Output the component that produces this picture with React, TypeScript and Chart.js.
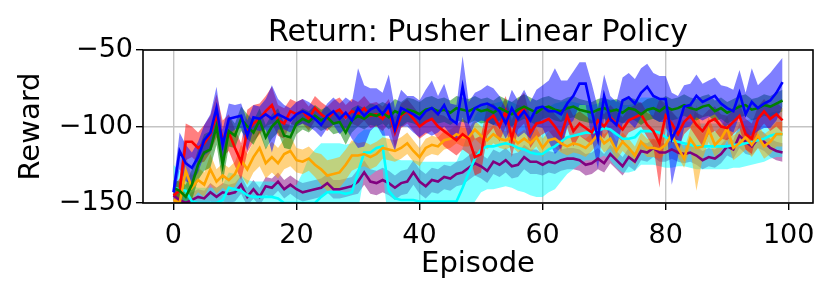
import { useEffect, useRef } from 'react';
import { Chart, registerables } from 'chart.js';

Chart.register(...registerables);

const episodes = Array.from({ length: 100 }, (_, i) => i);
const xTicks = [0, 20, 40, 60, 80, 100];
const yTicks = [-150, -100, -50];
const titleText = 'Return: Pusher Linear Policy';
const xTitle = 'Episode';
const yTitle = 'Reward';

const purpleMean = [
  -145, -148, -150, -148, -146, -147, -143, -146, -143, -144,
  -143, -138, -146, -141, -146, -139, -140, -136, -141, -138,
  -141, -143, -142, -141, -140, -137, -141, -141, -140, -139,
  -136, -130, -136, -137, -135, -137, -140, -137, -136, -130,
  -136, -139, -135, -136, -133, -134, -131, -130, -127, -124,
  -126, -129, -123, -125, -122, -126, -125, -120, -123, -123,
  -125, -123, -124, -122, -121, -121, -122, -125, -124, -121,
  -124, -118, -122, -126, -120, -123, -116, -117, -114, -117,
  -117, -115, -117, -118, -117, -119, -122, -120, -121, -118,
  -113, -115, -106, -110, -113, -108, -110, -114, -116, -117,
];
const purpleStd = [
  5, 4, 4, 5, 5, 5, 6, 6, 6, 6,
  6, 6, 6, 6, 6, 6, 6, 6, 6, 6,
  6, 6, 6, 6, 6, 6, 6, 6, 6, 6,
  8, 8, 8, 8, 8, 8, 8, 8, 8, 8,
  8, 8, 8, 8, 8, 8, 8, 8, 8, 8,
  8, 8, 8, 8, 8, 8, 8, 8, 8, 8,
  7, 7, 7, 7, 7, 7, 7, 7, 7, 7,
  6, 6, 6, 6, 6, 6, 6, 6, 6, 6,
  6, 6, 6, 6, 6, 6, 6, 6, 6, 6,
  6, 6, 8, 8, 6, 6, 6, 6, 6, 6,
];

const cyanMean = [
  -140, -141, -142, -149, -150, -150, -150, -150, -148, -140,
  -141, -142, -145, -146, -146, -146, -146, -147, -150, -150,
  -150, -150, -150, -150, -146, -143, -143, -143, -144, -143,
  -130, -117, -117, -114, -113, -142, -147, -148, -148, -148,
  -149, -149, -149, -149, -149, -149, -149, -140, -130, -121,
  -115, -113, -113, -112, -111, -112, -114, -115, -117, -118,
  -118, -115, -113, -110, -107, -106, -105, -104, -104, -103,
  -101, -102, -105, -108, -108, -107, -103, -103, -103, -104,
  -107, -109, -110, -111, -112, -113, -113, -113, -113, -113,
  -113, -112, -112, -111, -110, -109, -108, -106, -105, -105,
];
const cyanStd = [
  15, 12, 10, 10, 10, 10, 10, 10, 10, 10,
  10, 10, 10, 10, 10, 10, 10, 10, 10, 10,
  12, 20, 30, 35, 35, 32, 32, 32, 32, 32,
  25, 15, 15, 15, 15, 25, 26, 26, 26, 26,
  26, 26, 26, 26, 26, 26, 26, 26, 27, 28,
  28, 28, 28, 28, 28, 28, 28, 28, 28, 28,
  28, 28, 28, 26, 24, 22, 20, 18, 18, 18,
  18, 20, 22, 22, 22, 22, 22, 22, 22, 22,
  20, 18, 16, 15, 15, 15, 15, 15, 15, 15,
  15, 15, 15, 15, 15, 15, 15, 15, 15, 15,
];

const orangeMean = [
  -148, -150, -129, -140, -135, -138, -128, -136, -132, -135,
  -131, -122, -128, -120, -114, -124, -120, -124, -118, -116,
  -122, -123, -121, -125, -128, -132, -131, -130, -125, -119,
  -119, -118, -120, -118, -114, -115, -116, -114, -111, -116,
  -120, -114, -112, -113, -109, -108, -105, -107, -107, -102,
  -106, -109, -105, -108, -109, -107, -111, -108, -111, -107,
  -114, -109, -108, -111, -113, -111, -112, -114, -110, -105,
  -111, -108, -116, -110, -114, -119, -110, -114, -114, -115,
  -112, -105, -114, -121, -108, -114, -113, -102, -112, -108,
  -101, -114, -111, -107, -112, -106, -113, -110, -105, -105,
];
const orangeStd = [
  4, 6, 10, 8, 8, 8, 10, 8, 8, 8,
  8, 10, 10, 10, 12, 10, 10, 10, 10, 10,
  8, 8, 8, 8, 10, 10, 10, 10, 10, 10,
  8, 8, 8, 8, 7, 7, 7, 7, 7, 7,
  6, 6, 6, 6, 6, 6, 6, 6, 6, 6,
  6, 6, 6, 6, 6, 6, 6, 6, 6, 6,
  6, 6, 6, 6, 6, 6, 6, 6, 6, 6,
  6, 6, 6, 6, 6, 6, 6, 6, 6, 6,
  6, 6, 6, 6, 6, 28, 8, 8, 8, 8,
  8, 8, 8, 8, 8, 8, 8, 8, 8, 8,
];

const redMean = [
  -145, -142, -110, -110, -114, -111, -105, -93, -108, -104,
  -114, -123, -103, -98, -95, -90, -86, -96, -98, -90,
  -92, -90, -95, -88, -92, -95, -91, -89, -94, -90,
  -92, -88, -93, -92, -95, -90, -104, -93, -90, -95,
  -100, -97, -95, -100, -103, -106, -109, -105, -108, -120,
  -118, -96, -93, -100, -90, -108, -92, -88, -104, -98,
  -97, -95, -100, -106, -93, -103, -98, -101, -104, -96,
  -100, -94, -98, -102, -96, -94, -92, -99, -103, -111,
  -93, -98, -105, -97, -93, -99, -103, -97, -95, -100,
  -101, -97, -93, -105, -108, -95, -90, -95, -92, -96,
];
const redStd = [
  6, 8, 12, 10, 10, 12, 12, 14, 12, 12,
  12, 12, 14, 12, 10, 10, 12, 10, 10, 8,
  8, 8, 8, 8, 8, 8, 8, 8, 8, 8,
  8, 8, 8, 8, 8, 8, 10, 8, 8, 8,
  8, 8, 8, 8, 10, 10, 10, 10, 10, 12,
  12, 10, 8, 10, 10, 12, 10, 10, 10, 10,
  8, 8, 8, 10, 8, 10, 8, 8, 8, 8,
  8, 8, 8, 8, 8, 8, 8, 8, 10, 29,
  8, 8, 10, 8, 8, 8, 10, 8, 8, 8,
  8, 8, 8, 10, 10, 8, 8, 8, 8, 8,
];

const greenMean = [
  -140, -142, -146, -138, -125, -117, -115, -100, -125, -103,
  -106, -95, -100, -104, -96, -107, -100, -96, -106, -107,
  -98, -95, -97, -93, -96, -94, -98, -97, -104, -96,
  -93, -95, -92, -93, -91, -94, -90, -92, -89, -90,
  -92, -89, -88, -90, -89, -91, -88, -89, -90, -88,
  -90, -89, -91, -88, -90, -92, -89, -87, -89, -91,
  -88, -87, -89, -90, -88, -87, -89, -90, -91, -89,
  -88, -90, -89, -91, -88, -89, -92, -89, -88, -90,
  -87, -89, -88, -86, -88, -89, -87, -86, -90, -88,
  -91, -89, -87, -86, -89, -88, -86, -87, -85, -83,
];
const greenStd = [
  5, 6, 8, 10, 10, 12, 12, 12, 12, 10,
  8, 8, 8, 8, 8, 8, 8, 8, 8, 8,
  7, 7, 7, 7, 7, 7, 7, 7, 8, 8,
  7, 7, 7, 7, 7, 8, 8, 8, 8, 8,
  8, 8, 8, 8, 8, 8, 8, 8, 8, 8,
  8, 8, 8, 8, 8, 8, 8, 8, 8, 8,
  7, 7, 7, 7, 7, 7, 7, 7, 7, 7,
  7, 7, 7, 7, 7, 7, 7, 7, 7, 7,
  7, 7, 7, 7, 7, 7, 7, 7, 7, 7,
  7, 7, 7, 7, 7, 7, 7, 7, 7, 7,
];

const blueMean = [
  -143, -116, -124, -127, -120, -109, -104, -88, -112, -95,
  -94, -93, -106, -94, -95, -92, -95, -92, -94, -96,
  -92, -90, -92, -95, -99, -93, -90, -95, -91, -96,
  -88, -93, -89, -87, -92, -86, -102, -88, -90, -92,
  -95, -90, -88, -92, -86, -95, -98, -74, -96, -88,
  -86, -85, -87, -90, -98, -88, -95, -90, -96, -88,
  -87, -90, -90, -92, -85, -80, -72, -72, -90, -108,
  -80, -95, -99, -83, -81, -85, -78, -74, -80, -82,
  -82, -108, -100, -87, -86, -80, -84, -82, -80, -85,
  -88, -90, -78, -92, -84, -88, -85, -83, -78, -71,
];
const blueStd = [
  6, 12, 12, 10, 10, 10, 12, 14, 10, 10,
  8, 8, 10, 8, 8, 10, 22, 10, 8, 8,
  8, 8, 8, 8, 8, 8, 9, 10, 10, 12,
  26, 20, 14, 12, 14, 20, 14, 12, 10, 12,
  12, 14, 18, 12, 14, 10, 12, 20, 12, 10,
  10, 12, 12, 10, 10, 12, 12, 14, 12, 12,
  14, 20, 28, 22, 15, 16, 14, 14, 18, 20,
  14, 15, 15, 15, 16, 16, 16, 15, 15, 15,
  15, 30, 20, 14, 14, 14, 12, 12, 12, 12,
  14, 14, 15, 14, 22, 15, 16, 18, 18, 16,
];

// drawing order: first drawn at the bottom
const seriesList = [
  { name: 'purple', color: 'rgb(128,0,128)', band: 'rgba(128,0,128,0.5)', mean: purpleMean, std: purpleStd },
  { name: 'cyan', color: 'rgb(0,255,255)', band: 'rgba(0,255,255,0.5)', mean: cyanMean, std: cyanStd },
  { name: 'orange', color: 'rgb(255,165,0)', band: 'rgba(255,165,0,0.5)', mean: orangeMean, std: orangeStd },
  { name: 'red', color: 'rgb(255,0,0)', band: 'rgba(255,0,0,0.5)', mean: redMean, std: redStd },
  { name: 'green', color: 'rgb(0,128,0)', band: 'rgba(0,128,0,0.5)', mean: greenMean, std: greenStd },
  { name: 'blue', color: 'rgb(0,0,255)', band: 'rgba(0,0,255,0.5)', mean: blueMean, std: blueStd },
];

const FONT = 'DejaVu Sans';
const fmt = (v: number) => (v < 0 ? '\u2212' + Math.abs(v) : String(v));

const framePlugin = {
  id: 'frame',
  afterDatasetsDraw(chart: any) {
    const { ctx, chartArea } = chart;
    ctx.save();
    ctx.strokeStyle = '#000';
    ctx.lineWidth = 1.6;
    ctx.strokeRect(chartArea.left, chartArea.top, chartArea.right - chartArea.left, chartArea.bottom - chartArea.top);
    ctx.restore();
  },
};

export default function App() {
  const ref = useRef<HTMLCanvasElement>(null);
  useEffect(() => {
    if (!ref.current) return;
    const datasets: any[] = [];
    const total = seriesList.length * 3;
    let drawIdx = 0;
    seriesList.forEach((s) => {
      const lo = episodes.map((e, i) => ({ x: e, y: s.mean[i] - s.std[i] }));
      const hi = episodes.map((e, i) => ({ x: e, y: s.mean[i] + s.std[i] }));
      datasets.push({
        label: s.name + ' low', data: lo, borderWidth: 0, pointRadius: 0, fill: false,
        borderColor: 'rgba(0,0,0,0)', order: total - drawIdx++,
      });
      datasets.push({
        label: s.name + ' high', data: hi, borderWidth: 0, pointRadius: 0, fill: '-1',
        backgroundColor: s.band, borderColor: 'rgba(0,0,0,0)', order: total - drawIdx++,
      });
    });
    seriesList.forEach((s) => {
      datasets.push({
        label: s.name, data: episodes.map((e, i) => ({ x: e, y: s.mean[i] })),
        borderColor: s.color, borderWidth: 2.6, pointRadius: 0, fill: false, tension: 0,
        order: total - drawIdx++,
      });
    });

    const chart = new Chart(ref.current, {
      type: 'line',
      data: { datasets },
      plugins: [framePlugin],
      options: {
        animation: false,
        responsive: false,
        devicePixelRatio: 1,
        layout: { padding: { left: 0, right: 17, top: 0, bottom: 0 } },
        plugins: {
          legend: { display: false },
          tooltip: { enabled: false },
          filler: { drawTime: 'beforeDatasetsDraw' },
          title: {
            display: true, text: titleText, color: '#000', fullSize: false,
            font: { family: FONT, size: 30, weight: 'normal', lineHeight: 1.1 },
            padding: { top: 17, bottom: 0 },
          },
        },
        scales: {
          x: {
            type: 'linear', min: -4.95, max: 103.95,
            afterBuildTicks: (scale: any) => { scale.ticks = xTicks.map((v) => ({ value: v })); },
            afterFit: (scale: any) => { scale.height = 94; scale.paddingLeft = 0; scale.paddingRight = 0; },
            ticks: {
              autoSkip: false, maxRotation: 0, minRotation: 0, color: '#000', padding: 10,
              font: { family: FONT, size: 27 }, callback: (v: any) => fmt(Number(v)),
            },
            grid: { color: '#c4c4c4', lineWidth: 1.4, tickColor: '#000', tickLength: 7, tickWidth: 1.4 },
            border: { display: false },
            title: {
              display: true, text: xTitle, color: '#000',
              font: { family: FONT, size: 29 }, padding: { top: 0, bottom: 15 },
            },
          },
          y: {
            type: 'linear', min: -150, max: -50,
            afterBuildTicks: (scale: any) => { scale.ticks = yTicks.map((v) => ({ value: v })); },
            afterFit: (scale: any) => { scale.width = 143; scale.paddingTop = 0; scale.paddingBottom = 0; },
            ticks: {
              color: '#000', padding: 3,
              font: { family: FONT, size: 27 }, callback: (v: any) => fmt(Number(v)),
            },
            grid: { color: '#c4c4c4', lineWidth: 1.4, tickColor: '#000', tickLength: 7, tickWidth: 1.4 },
            border: { display: false },
            title: {
              display: true, text: yTitle, color: '#000',
              font: { family: FONT, size: 29 }, padding: { top: 14, bottom: 0 },
            },
          },
        },
      } as any,
    });
    return () => chart.destroy();
  }, []);

  return (
    <div style={{ position: 'absolute', left: 0, top: 0, width: 830, height: 297, background: '#fff' }}>
      <canvas ref={ref} width={830} height={297} />
    </div>
  );
}
